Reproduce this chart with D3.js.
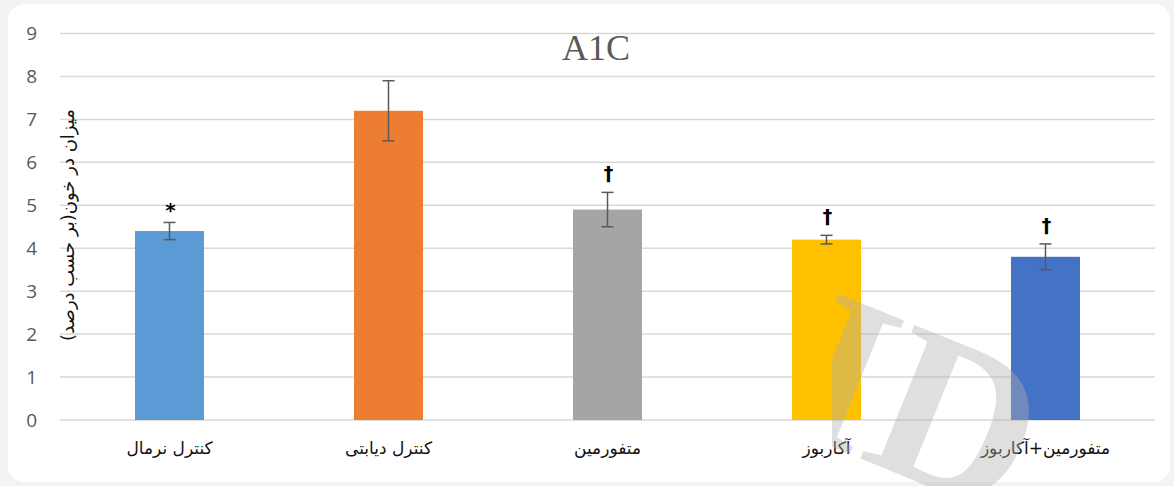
<!DOCTYPE html>
<html>
<head>
<meta charset="utf-8">
<script src="https://cdn.jsdelivr.net/npm/d3@7"></script>
<style>
  body { margin: 0; background: #f3f3f3; }
  svg { display: block; }
</style>
</head>
<body>
<div id="chart"></div>
<script>
// data
const categories = ["کنترل نرمال", "کنترل دیابتی", "متفورمین", "آکاربوز", "متفورمین+آکاربوز"]
const values = [4.4, 7.2, 4.9, 4.2, 3.8]
const errors = [0.2, 0.7, 0.4, 0.1, 0.3]
const marks = ["*", "", "†", "†", "†"]
const colors = ["#5B9BD5", "#ED7D31", "#A5A5A5", "#FFC000", "#4472C4"]
const yTicks = [0, 1, 2, 3, 4, 5, 6, 7, 8, 9]

const W = 1174, H = 486
const margin = { top: 33.5, right: 19, bottom: 66, left: 60 }
const width = W - margin.left - margin.right
const height = H - margin.top - margin.bottom

const svg = d3.select("#chart").append("svg")
    .attr("width", W)
    .attr("height", H)

// card
svg.append("rect")
    .attr("x", 8).attr("y", 4)
    .attr("width", 1162).attr("height", 478)
    .attr("rx", 16)
    .attr("fill", "#ffffff")

const g = svg.append("g")
    .attr("transform", "translate(" + margin.left + "," + margin.top + ")")

// scales
const x = d3.scaleBand()
    .domain(categories)
    .range([0, width])
    .paddingInner(0.685)
    .paddingOuter(0.3425)

const y = d3.scaleLinear()
    .domain([0, 9])
    .range([height, 0])

// gridlines
g.selectAll(".grid")
    .data(yTicks)
    .enter().append("line")
    .attr("class", "grid")
    .attr("x1", 0).attr("x2", width)
    .attr("y1", d => y(d)).attr("y2", d => y(d))
    .attr("stroke", "#d9d9d9")
    .attr("stroke-width", 1.5)

// y axis labels
const yAxis = d3.axisLeft(y).tickValues(yTicks).tickSize(0).tickPadding(23)
g.append("g")
    .attr("class", "y-axis")
    .call(yAxis)
    .call(a => a.select(".domain").remove())
    .selectAll("text")
    .attr("fill", "#595959")
    .attr("font-family", "'Open Sans', sans-serif")
    .attr("font-size", "19px")

// x axis labels
const xAxis = d3.axisBottom(x).tickSize(0).tickPadding(22)
g.append("g")
    .attr("class", "x-axis")
    .attr("transform", "translate(0," + height + ")")
    .call(xAxis)
    .call(a => a.select(".domain").remove())
    .selectAll("text")
    .attr("fill", "#111")
    .attr("font-family", "'DejaVu Sans', sans-serif")
    .attr("font-size", "17px")

// bars
g.selectAll(".bar")
    .data(values)
    .enter().append("rect")
    .attr("class", "bar")
    .attr("x", (d, i) => x(categories[i]))
    .attr("y", d => y(d))
    .attr("width", x.bandwidth())
    .attr("height", d => height - y(d))
    .attr("fill", (d, i) => colors[i])

// error bars
const eb = g.selectAll(".err")
    .data(values)
    .enter().append("g")
    .attr("class", "err")
    .attr("transform", (d, i) => "translate(" + (x(categories[i]) + x.bandwidth() / 2) + ",0)")

eb.append("line")
    .attr("x1", 0).attr("x2", 0)
    .attr("y1", (d, i) => y(d + errors[i]))
    .attr("y2", (d, i) => y(d - errors[i]))
eb.append("line")
    .attr("x1", -6).attr("x2", 6)
    .attr("y1", (d, i) => y(d + errors[i]))
    .attr("y2", (d, i) => y(d + errors[i]))
eb.append("line")
    .attr("x1", -6).attr("x2", 6)
    .attr("y1", (d, i) => y(d - errors[i]))
    .attr("y2", (d, i) => y(d - errors[i]))
eb.selectAll("line")
    .attr("stroke", "#595959")
    .attr("stroke-width", 1.5)

// significance marks
g.selectAll(".mark")
    .data(values)
    .enter().append("text")
    .attr("class", "mark")
    .attr("x", (d, i) => x(categories[i]) + x.bandwidth() / 2 + 1)
    .attr("y", (d, i) => y(d + errors[i]) - (marks[i] === "*" ? 5 : 12))
    .attr("text-anchor", "middle")
    .attr("font-family", "'DejaVu Sans', sans-serif")
    .attr("font-weight", "bold")
    .attr("font-size", (d, i) => marks[i] === "*" ? "20px" : "19px")
    .attr("fill", "#000")
    .text((d, i) => marks[i])

// title
svg.append("text")
    .attr("x", 596).attr("y", 60)
    .attr("text-anchor", "middle")
    .attr("font-family", "'Liberation Serif', serif")
    .attr("font-size", "36px")
    .attr("fill", "#595959")
    .text("A1C")

// y axis title
svg.append("text")
    .attr("transform", "translate(74,225) rotate(-90)")
    .attr("text-anchor", "middle")
    .attr("direction", "rtl")
    .attr("font-family", "'DejaVu Sans', sans-serif")
    .attr("font-size", "18px")
    .attr("fill", "#111")
    .text("میزان در خون(بر حسب درصد)")

// watermark, only the lower right part shows
svg.append("clipPath")
    .attr("id", "wm-clip")
    .append("rect")
    .attr("x", 832).attr("y", 0)
    .attr("width", W).attr("height", H)

svg.append("g")
    .attr("clip-path", "url(#wm-clip)")
    .append("text")
    .attr("transform", "translate(664,379) rotate(22)")
    .attr("font-family", "'Liberation Serif', serif")
    .attr("font-weight", "bold")
    .attr("font-size", "220px")
    .attr("fill", "#b0b0b0")
    .attr("opacity", 0.4)
    .text("SID")
</script>
</body>
</html>
